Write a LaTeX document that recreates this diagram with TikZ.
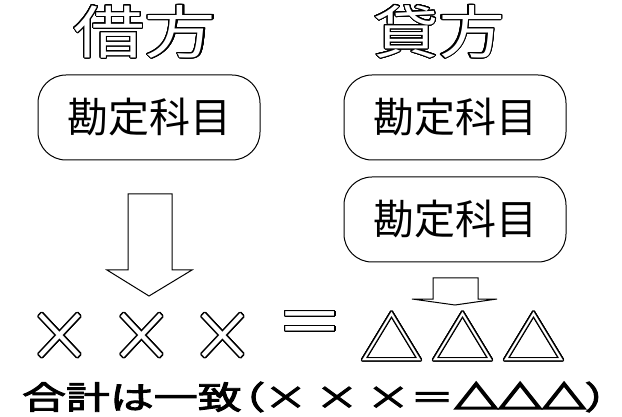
\documentclass[tikz,border=0pt]{standalone}
\usepackage{fontspec}
\usepackage{graphicx}
\usepackage{contour}
\newfontfamily\jp{Noto Sans CJK JP}
\newfontfamily\jpf{Noto Sans CJK JP}[CharacterWidth=Full]
\newfontfamily\jpp{Noto Sans CJK JP}[CharacterWidth=AlternateProportional, FakeBold=2.6]
\newfontfamily\jpfb{Noto Sans CJK JP}[CharacterWidth=Full, FakeBold=2.6]
\newfontfamily\jptri{Noto Sans CJK JP}[CharacterWidth=Full, FakeBold=6]
\contourlength{1pt}
\contournumber{32}
\tikzset{
  outl/.style={inner sep=0pt, text=white},
  kbox/.style={draw, line width=1pt, rounded corners=28pt, minimum width=222pt,
    minimum height=85pt, inner sep=0pt, font=\jp\fontsize{41}{41}\selectfont},
  barrow/.style={draw, line width=1pt, fill=white, line join=miter},
  orow/.style={outl, font=\jpf\fontsize{60}{60}\selectfont},
}
\begin{document}
\begin{tikzpicture}[x=1pt,y=-1pt]
\useasboundingbox (0,0) rectangle (622,417);
\fill[white] (0,0) rectangle (622,417);
% titles
\node[outl, font=\jp\fontsize{57}{57}\selectfont] (tl) at (145,32)
  {\scalebox{1.25}[1]{\contour{black}{借方}}};
\node[outl, font=\jp\fontsize{57}{57}\selectfont] (tr) at (439,32)
  {\scalebox{1.15}[1]{\contour{black}{貸方}}};
% boxes
\node[kbox] (b1) at (149,117.5) {勘定科目};
\node[kbox] (b2) at (455,117.5) {勘定科目};
\node[kbox] (b3) at (455,219.5) {勘定科目};
% block arrows
\draw[barrow] (128,194) -- (172,194) -- (172,270) -- (192,270) -- (149,296)
  -- (107,270) -- (128,270) -- cycle;
\draw[barrow] (433,278) -- (478,278) -- (478,299) -- (497,299) -- (455,305)
  -- (412,299) -- (433,299) -- cycle;
% outlined equation row
\node[orow] (x1) at (60,338) {\scalebox{1.08}[1.15]{\contour{black}{×}}};
\node[orow] (x2) at (142,338) {\scalebox{1.08}[1.15]{\contour{black}{×}}};
\node[orow] (x3) at (223,338) {\scalebox{1.08}[1.15]{\contour{black}{×}}};
\node[orow] (eq) at (310.5,329.5) {\scalebox{1.12}[1.1]{\contour{black}{＝}}};
\node[orow] (d1) at (392,337) {\scalebox{1.05}[1]{\contour{black}{△}}};
\node[orow] (d2) at (463,337) {\scalebox{1.05}[1]{\contour{black}{△}}};
\node[orow] (d3) at (534,337) {\scalebox{1.05}[1]{\contour{black}{△}}};
% bottom text
\node[inner sep=0pt, font=\jpp\fontsize{32}{32}\selectfont] (sum) at (315,397)
  {\resizebox{586pt}{\height}{合計は一致（{\jpfb×\,×\,×＝}{\jptri△△△}）}};
\end{tikzpicture}
\end{document}
